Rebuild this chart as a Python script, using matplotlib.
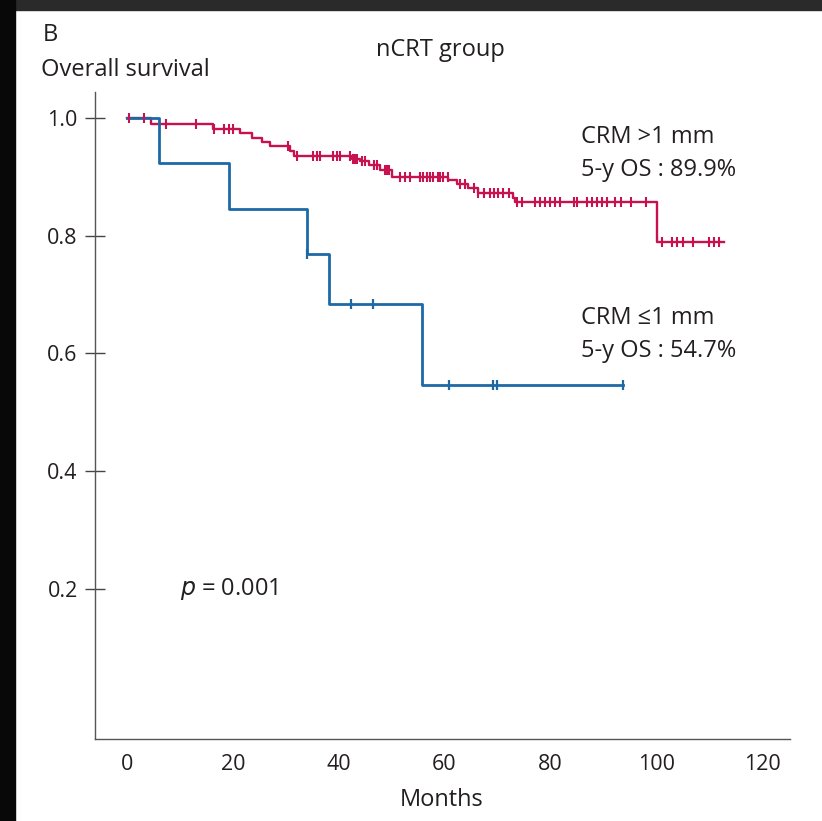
"""
km_ncrt.py - Kaplan-Meier overall survival in the nCRT group, split by CRM.
"""
import numpy as np
import matplotlib
matplotlib.use("Agg")
import matplotlib.pyplot as plt
from matplotlib.patches import Rectangle

plt.rcParams["font.family"] = ["Open Sans", "DejaVu Sans"]

# CRM > 1 mm: step times (months) and survival after each step
RED_TIMES = [0, 4.5, 16.3, 21.4, 23.6, 25.6, 27.0, 30.8, 31.6, 42.5, 44.0, 45.8,
             47.8, 50.0, 60.7, 62.3, 64.5, 66.4, 72.9, 73.4, 100.1, 112.9]
RED_SURV = [1.0, 0.990, 0.982, 0.974, 0.966, 0.959, 0.952, 0.943, 0.935, 0.930, 0.926,
            0.920, 0.912, 0.900, 0.895, 0.888, 0.881, 0.872, 0.864, 0.857, 0.789, 0.789]
RED_CENSOR = [0.4, 3.2, 7.4, 13.0, 16.5, 18.3, 19.2, 20.1, 30.5, 32.2, 35.2, 35.9,
              36.5, 38.9, 39.6, 40.3, 42.2, 42.7, 43.1, 43.5, 44.4, 45.0, 46.6, 47.3,
              48.8, 49.1, 49.6, 51.6, 52.6, 53.5, 55.4, 55.9, 56.7, 57.3, 57.9, 58.7,
              59.2, 59.8, 60.6, 63.0, 63.9, 65.5, 66.4, 67.4, 68.6, 69.4, 70.2, 71.1,
              72.1, 73.7, 74.6, 77.1, 78.1, 79.0, 80.0, 80.9, 81.9, 84.4, 85.1, 86.9,
              87.8, 88.8, 89.7, 90.7, 92.2, 93.3, 95.2, 98.1, 101.1, 103.0, 104.0,
              105.0, 107.0, 110.0, 111.0, 111.9]

# CRM <= 1 mm
BLUE_TIMES = [0, 6.1, 19.3, 34.1, 38.1, 55.7, 93.7]
BLUE_SURV = [1.0, 0.923, 0.846, 0.769, 0.684, 0.547, 0.547]
BLUE_CENSOR = [34.1, 42.4, 46.4, 60.9, 69.2, 69.9, 93.7]

X_TICKS = [0, 20, 40, 60, 80, 100, 120]
Y_TICKS = [0.2, 0.4, 0.6, 0.8, 1.0]
Y_TICKLABELS = ["0.2", "0.4", "0.6", "0.8", "1.0"]

RED = "#c8124f"
BLUE = "#1c69a6"
TXT = "#231f20"
W, H = 822, 821
FS = 17


def level_at(times, surv, t):
    i = np.searchsorted(times, t, side="right") - 1
    return np.asarray(surv)[i]


def fx(px):
    return px / W


def fy(py):
    return 1 - py / H


fig = plt.figure(figsize=(W / 100, H / 100), dpi=100)
# dark screenshot frame on top and left
fig.patches.append(Rectangle((0, fy(10)), 1, 10 / H, transform=fig.transFigure,
                             color="#2a2a2a", zorder=-5))
fig.patches.append(Rectangle((0, 0), 15 / W, 1, transform=fig.transFigure,
                             color="#080808", zorder=-4))

ax = fig.add_axes([fx(95), fy(739), fx(790) - fx(95), fy(92) - fy(739)])
ax.set_xlim(-6.05, 125.3)
ax.set_ylim(-0.055, 1.044)

ax.plot(RED_TIMES, RED_SURV, drawstyle="steps-post", color=RED, lw=1.7, zorder=3)
ax.plot(BLUE_TIMES, BLUE_SURV, drawstyle="steps-post", color=BLUE, lw=2.0, zorder=4)
ax.plot(BLUE_CENSOR, [level_at(BLUE_TIMES, BLUE_SURV, t) for t in BLUE_CENSOR],
        ls="none", marker="|", ms=7.5, mew=1.6, color=BLUE, zorder=5)
ax.plot(RED_CENSOR, [level_at(RED_TIMES, RED_SURV, t) for t in RED_CENSOR],
        ls="none", marker="|", ms=7, mew=1.5, color=RED, zorder=6)

for side in ["top", "right"]:
    ax.spines[side].set_visible(False)
for side in ["left", "bottom"]:
    ax.spines[side].set_color("#555555")
    ax.spines[side].set_linewidth(1.0)

ax.set_yticks(Y_TICKS)
ax.set_yticklabels(Y_TICKLABELS)
ax.set_xticks(X_TICKS)
ax.tick_params(axis="y", direction="inout", length=15, width=1.0, color="#444444",
               pad=5, labelsize=15.5, labelcolor=TXT)
ax.tick_params(axis="x", length=0, pad=11, labelsize=15.5, labelcolor=TXT)

fig.text(fx(43), fy(35), "B", fontsize=FS, color=TXT, va="center", ha="left")
fig.text(fx(41), fy(70), "Overall survival", fontsize=FS, color=TXT, va="center", ha="left")
fig.text(fx(440), fy(50), "nCRT group", fontsize=FS, color=TXT, va="center", ha="center")
fig.text(fx(442), fy(800), "Months", fontsize=FS, color=TXT, va="center", ha="center")

fig.text(fx(581), fy(137), "CRM >1 mm", fontsize=FS, color=TXT, va="center")
fig.text(fx(581), fy(170), "5-y OS : 89.9%", fontsize=FS, color=TXT, va="center")
fig.text(fx(581), fy(318), "CRM \u22641 mm", fontsize=FS, color=TXT, va="center")
fig.text(fx(581), fy(351), "5-y OS : 54.7%", fontsize=FS, color=TXT, va="center")
fig.text(fx(180), fy(589), "$\\it{p}$ = 0.001", fontsize=FS, color=TXT, va="center")

fig.savefig("out.png", dpi=100)
